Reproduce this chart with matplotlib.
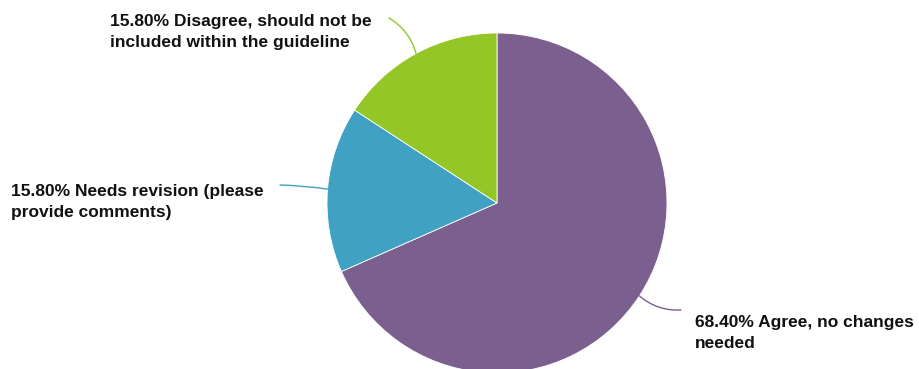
import numpy as np
import matplotlib.pyplot as plt

labels = ["Agree, no changes\nneeded",
          "Needs revision (please\nprovide comments)",
          "Disagree, should not be\nincluded within the guideline"]
shares = [68.40, 15.80, 15.80]
colors = ["#7b5f8f", "#41a1c3", "#95c627"]

W, H = 919, 369
cx, cy, r = 497, H - 203, 170

# where each label sits (left edge, vertical centre) and where its leader ends
label_pos = [(695, H - 333), (11, H - 202), (110, H - 32)]
line_end = [(681, H - 310), (280, H - 185), (389, H - 18)]
curves = ["arc3,rad=-0.2", "arc3,rad=-0.03", "arc3,rad=-0.2"]

plt.rcParams['font.family'] = ['Liberation Sans', 'DejaVu Sans']

fig = plt.figure(figsize=(W / 100, H / 100), dpi=100)
ax = fig.add_axes([0, 0, 1, 1])

wedges, _ = ax.pie(shares, colors=colors, center=(cx, cy), radius=r,
                   startangle=90, counterclock=False,
                   wedgeprops=dict(edgecolor='white', linewidth=0.6),
                   frame=True)
ax.set_xlim(0, W)
ax.set_ylim(0, H)
ax.set_aspect('equal')
ax.axis('off')

for w, lab, val, pos, end, cs, col in zip(wedges, labels, shares, label_pos,
                                           line_end, curves, colors):
    mid = np.deg2rad((w.theta1 + w.theta2) / 2)
    px, py = cx + r * np.cos(mid), cy + r * np.sin(mid)
    ax.annotate('', xy=(px, py), xytext=end,
                arrowprops=dict(arrowstyle='-', color=col, lw=1.0,
                                connectionstyle=cs, shrinkA=0, shrinkB=0))
    ax.text(pos[0], pos[1], "%.2f%% %s" % (val, lab), ha='left', va='center',
            fontsize=12.5, fontweight='bold', color='#111111', linespacing=1.45)

fig.savefig("out.png", dpi=100)
